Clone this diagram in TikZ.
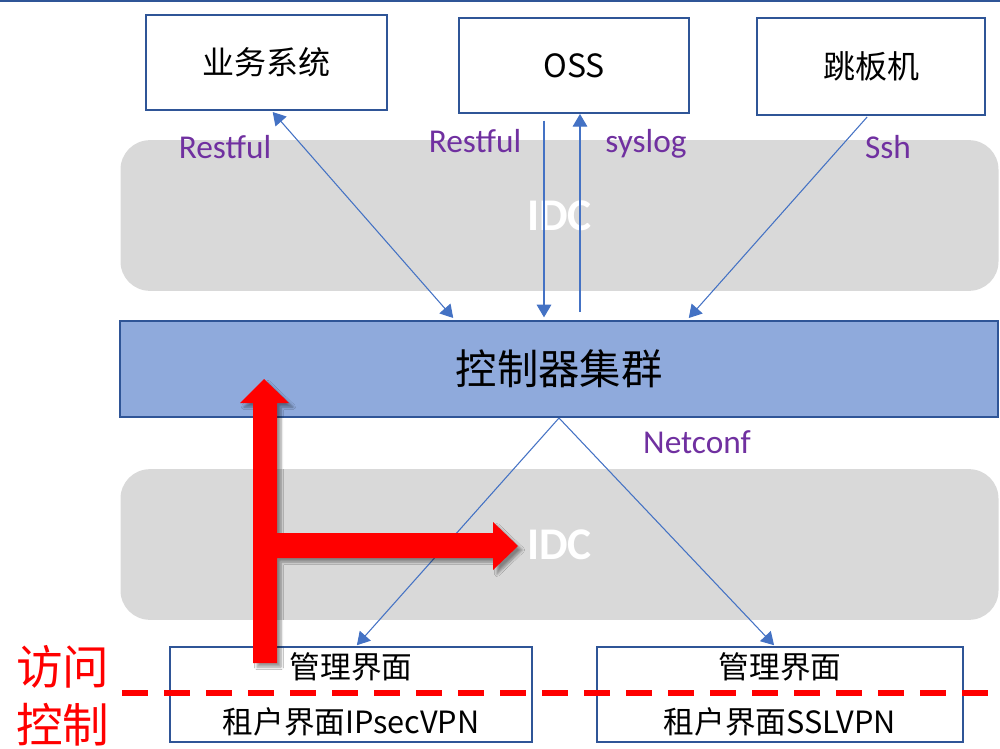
\documentclass[tikz,border=0pt]{standalone}
\usepackage{fontspec}
\setmainfont{Carlito}
\newfontfamily\cjk{Noto Sans CJK SC}
\usetikzlibrary{arrows.meta,shadows.blur,calc}
\definecolor{boxblue}{HTML}{2F5597}
\definecolor{lineblue}{HTML}{4472C4}
\definecolor{ctrlfill}{HTML}{8FAADC}
\definecolor{bandgray}{HTML}{D9D9D9}
\definecolor{lblpurple}{HTML}{7030A0}
\definecolor{redc}{HTML}{FF0000}
\begin{document}
\begin{tikzpicture}[x=0.75pt,y=-0.75pt,
  topbox/.style={draw=boxblue,line width=1.5pt,fill=white,inner sep=0pt,
    font=\cjk\fontsize{24pt}{28pt}\selectfont},
  band/.style={fill=bandgray,rounded corners=22pt,inner sep=0pt,minimum width=658.5pt,minimum height=113pt,
    text=white,font=\bfseries\fontsize{34pt}{38pt}\selectfont},
  botbox/.style={draw=boxblue,line width=1.2pt,fill=white,inner sep=0pt,align=center,
    minimum height=71.25pt,font=\cjk\fontsize{23pt}{41pt}\selectfont},
  lbl/.style={text=lblpurple,inner sep=0pt,anchor=base,font=\fontsize{25pt}{28pt}\selectfont},
  conn/.style={draw=lineblue,line width=0.8pt},
  tip/.tip={Triangle[length=9.5pt,width=11pt]},
  redtxt/.style={text=redc,inner sep=0pt,font=\cjk\fontsize{35pt}{40pt}\selectfont}]
\useasboundingbox (0,0) rectangle (1000,749);
% top rule
\draw[boxblue,line width=1.5pt] (0,1) -- (1000,1);
% IDC bands
\node[band] (idc1) at (559.5,215.5) {IDC};
\node[band] (idc2) at (559.5,544.5) {IDC};
% labels
\node[lbl] (l1) at (225,158) {Restful};
\node[lbl] (l2) at (475,152) {Restful};
\node[lbl] (l3) at (646,152) {syslog};
\node[lbl] (l4) at (888,158) {Ssh};
\node[lbl] (l5) at (697,453) {Netconf};
% top boxes
\node[topbox,minimum width=180.75pt,minimum height=71.25pt] (biz) at (266.5,62.5) {业务系统};
\node[topbox,minimum width=172.5pt,minimum height=71.25pt] (oss) at (574,65.5) {OSS};
\node[topbox,minimum width=171pt,minimum height=72.75pt] (jump) at (871,66.5) {跳板机};
% controller
\node[draw=boxblue,line width=1.5pt,fill=ctrlfill,inner sep=0pt,minimum width=658.5pt,minimum height=72pt,
  font=\cjk\fontsize{31pt}{36pt}\selectfont] (ctrl) at (559,369) {控制器集群};
% bottom boxes
\node[botbox,minimum width=271.5pt] (ipsec) at (351,694.5) {管理界面\\租户界面IPsecVPN};
\node[botbox,minimum width=274.5pt] (ssl) at (780,694.5) {管理界面\\租户界面SSLVPN};
% connectors
\draw[conn,{tip}-{tip},shorten <=1pt,shorten >=2pt] ([xshift=4pt]biz.south) -- ([xshift=-78pt]ctrl.north);
\draw[conn,-{tip},shorten <=5pt,shorten >=2pt] ([xshift=-22.5pt]oss.south) -- ([xshift=-11.25pt]ctrl.north);
\draw[conn,-{tip},shorten <=6pt] ([xshift=15.75pt]ctrl.north) -- ([xshift=4.5pt]oss.south);
\draw[conn,-{tip},shorten <=1pt,shorten >=2pt] ([xshift=-2.25pt]jump.south) -- ([xshift=96pt]ctrl.north);
\draw[conn,-{tip},shorten >=1pt] (ctrl.south) -- ([xshift=3.75pt]ipsec.north);
\draw[conn,-{tip},shorten >=1pt] (ctrl.south) -- ([xshift=-3.75pt]ssl.north);
% red access arrow
\fill[redc,blur shadow={shadow xshift=3pt,shadow yshift=-3pt,shadow blur steps=6,shadow opacity=40}]
  (253,663) -- (253,403) -- (240,403) -- (264,379) -- (289,403) -- (277,403) -- (277,533)
  -- (493,533) -- (493,522) -- (518,546) -- (493,570) -- (493,558) -- (277,558) -- (277,663) -- cycle;
% red dashed line
\coordinate (dl) at (122,693);
\coordinate (dr) at (1000,693);
\draw[redc,line width=3.8pt,dash pattern=on 19.5pt off 12pt] (dl) -- (dr);
% red text
\node[redtxt] (t1) at (63,667) {访问};
\node[redtxt] (t2) at (63,725) {控制};
\end{tikzpicture}
\end{document}
